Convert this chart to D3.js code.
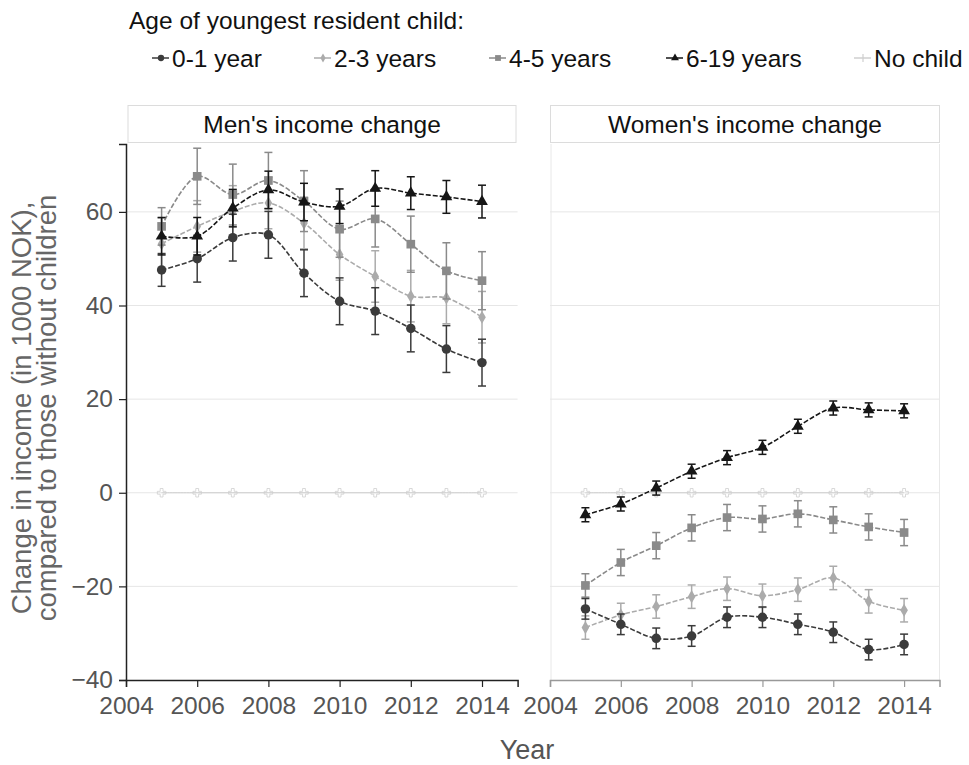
<!DOCTYPE html>
<html>
<head>
<meta charset="utf-8">
<script src="https://cdn.jsdelivr.net/npm/d3@7"></script>
<style>
  html, body { margin: 0; padding: 0; background: #fff; }
  svg { display: block; font-family: "Liberation Sans", Arial, sans-serif; }
</style>
</head>
<body>
<svg id="chart" width="969" height="765"></svg>
<script>
// ---- data ----
const years = [2005, 2006, 2007, 2008, 2009, 2010, 2011, 2012, 2013, 2014];
const groups = ["0-1 year", "2-3 years", "4-5 years", "6-19 years", "No child"];
const yTicks = [-40, -20, 0, 20, 40, 60];
const xTicks = [2004, 2006, 2008, 2010, 2012, 2014];

// Men: income change vs. no-child baseline (1000 NOK) and error half-widths
const men01 = [47.6, 50.0, 54.5, 55.1, 46.9, 40.9, 38.8, 35.1, 30.7, 27.8];
const men01Err = [3.5, 5, 5, 5, 5, 5, 5, 5, 5, 5];
const men23 = [53.2, 56.9, 60.1, 61.9, 57.6, 50.9, 46.2, 42.0, 41.6, 37.5];
const men23Err = [5.5, 5.5, 5.5, 5.5, 5.5, 5.5, 5.5, 5.5, 5.5, 5.5];
const men45 = [56.9, 67.6, 63.7, 66.7, 62.3, 56.3, 58.5, 53.1, 47.4, 45.3];
const men45Err = [4, 6, 6.5, 6, 6.5, 6, 6, 6, 6, 6.2];
const men619 = [54.8, 54.8, 60.8, 64.7, 62.1, 61.2, 65.0, 64.0, 63.2, 62.2];
const men619Err = [4, 4, 4, 4, 4, 3.7, 3.8, 3.5, 3.5, 3.5];
const menNone = [0, 0, 0, 0, 0, 0, 0, 0, 0, 0];

// Women
const women01 = [-24.8, -28.1, -31.1, -30.6, -26.6, -26.6, -28.1, -29.8, -33.5, -32.4];
const women01Err = [2.2, 2.2, 2.2, 2.2, 2.2, 2.2, 2.2, 2.2, 2.2, 2.2];
const women23 = [-28.8, -26.1, -24.3, -22.2, -20.5, -22.0, -20.7, -18.2, -23.2, -25.1];
const women23Err = [2.5, 2.5, 2.5, 2.5, 2.5, 2.5, 2.5, 2.5, 2.5, 2.5];
const women45 = [-19.8, -14.9, -11.3, -7.5, -5.3, -5.6, -4.5, -5.8, -7.3, -8.5];
const women45Err = [2.5, 2.8, 2.8, 2.8, 2.8, 2.8, 2.8, 2.8, 2.8, 2.8];
const women619 = [-4.7, -2.4, 1.0, 4.6, 7.5, 9.7, 14.2, 18.1, 17.7, 17.5];
const women619Err = [1.5, 1.5, 1.5, 1.5, 1.5, 1.5, 1.5, 1.5, 1.5, 1.5];
const womenNone = [0, 0, 0, 0, 0, 0, 0, 0, 0, 0];

// ---- styling per group ----
const colors = ["#3b3b3b", "#ababab", "#8a8a8a", "#161616", "#cfcfcf"];
const shapes = [d3.symbolCircle, d3.symbolDiamond, d3.symbolSquare, d3.symbolTriangle, d3.symbolCross];
const sizes = [70, 50, 75, 60, 30];
const FONT = "Liberation Sans, Arial, sans-serif";

const svg = d3.select("#chart");

// ---- legend ----
svg.append("text").attr("x", 129).attr("y", 29)
  .attr("font-size", 24.5).attr("fill", "#111")
  .text("Age of youngest resident child:");

const legendX = [161, 323, 498, 675, 863];
groups.forEach((g, i) => {
  const gx = legendX[i], gy = 58;
  const lg = svg.append("g");
  lg.append("line").attr("x1", gx - 9).attr("x2", gx + 8).attr("y1", gy).attr("y2", gy)
    .attr("stroke", colors[i]).attr("stroke-width", 1.5);
  if (i < 4) {
    lg.append("path").attr("transform", `translate(${gx},${gy})`)
      .attr("d", d3.symbol().type(shapes[i]).size(sizes[i] * 0.45)())
      .attr("fill", colors[i]);
  } else {
    lg.append("line").attr("x1", gx).attr("x2", gx).attr("y1", gy - 4).attr("y2", gy + 4)
      .attr("stroke", colors[i]).attr("stroke-width", 1.2);
  }
  lg.append("text").attr("x", gx + 11).attr("y", gy + 9)
    .attr("font-size", 24.5).attr("fill", "#111").text(g);
});

// ---- panels ----
const plotTop = 144, plotBottom = 680;
const y = d3.scaleLinear().domain([-40, 74.5]).range([plotBottom, plotTop]);

const panels = [
  { title: "Men's income change", x0: 126, x1: 517.6,
    series: [men01, men23, men45, men619, menNone],
    errs: [men01Err, men23Err, men45Err, men619Err, null], left: true },
  { title: "Women's income change", x0: 550, x1: 939.5,
    series: [women01, women23, women45, women619, womenNone],
    errs: [women01Err, women23Err, women45Err, women619Err, null], left: false }
];

panels.forEach(p => {
  const x = d3.scaleLinear().domain([2004, 2015]).range([p.x0, p.x1]);
  const g = svg.append("g");

  // header strip
  const hx0 = p.left ? 128 : p.x0 + 0.5;
  const hx1 = p.left ? 516 : p.x1;
  g.append("rect").attr("x", hx0).attr("y", 105.5)
    .attr("width", hx1 - hx0).attr("height", 37)
    .attr("fill", "#fff").attr("stroke", "#dcdcdc").attr("stroke-width", 1);
  g.append("text").attr("x", (hx0 + hx1) / 2).attr("y", 133)
    .attr("text-anchor", "middle").attr("font-size", 24.5).attr("fill", "#111").text(p.title);

  // gridlines
  g.selectAll(".grid").data(yTicks.filter(t => t > -40)).join("line")
    .attr("x1", p.x0).attr("x2", p.x1)
    .attr("y1", d => y(d)).attr("y2", d => y(d))
    .attr("stroke", "#e6e6e6").attr("stroke-width", 1);

  if (!p.left) {
    // light frame for the right panel
    g.append("line").attr("x1", p.x0 + 1).attr("x2", p.x0 + 1).attr("y1", plotTop).attr("y2", plotBottom)
      .attr("stroke", "#e8e8e8");
    g.append("line").attr("x1", p.x1).attr("x2", p.x1).attr("y1", plotTop).attr("y2", plotBottom)
      .attr("stroke", "#e8e8e8");
  }

  // x axis
  const xAxis = g.append("g").attr("transform", `translate(0,${plotBottom})`)
    .call(d3.axisBottom(x).tickValues(xTicks).tickFormat(d3.format("d")).tickSize(7).tickPadding(10));
  xAxis.select(".domain").attr("stroke", p.left ? "#222" : "#999").attr("stroke-width", 1.5);
  xAxis.selectAll(".tick line").attr("stroke", p.left ? "#222" : "#999").attr("stroke-width", 1.2);
  xAxis.selectAll(".tick text").attr("font-size", 24.5).attr("fill", "#555").attr("font-family", FONT);

  if (p.left) {
    const yAxis = g.append("g").attr("transform", `translate(${p.x0},0)`)
      .call(d3.axisLeft(y).tickValues(yTicks).tickSize(7).tickPadding(6));
    yAxis.select(".domain").attr("stroke", "#222").attr("stroke-width", 1.5);
    yAxis.selectAll(".tick line").attr("stroke", "#222").attr("stroke-width", 1.2);
    yAxis.selectAll(".tick text").attr("font-size", 24.5).attr("fill", "#555").attr("font-family", FONT);
  }

  const line = d3.line().x((d, i) => x(years[i])).y(d => y(d)).curve(d3.curveCatmullRom.alpha(0.5));

  // draw from the no-child baseline upward so dark series sit on top
  [4, 1, 2, 0, 3].forEach(si => {
    const vals = p.series[si];
    const err = p.errs[si];
    const c = colors[si];
    const sg = g.append("g");
    if (err) {
      vals.forEach((v, i) => {
        const cx = x(years[i]);
        sg.append("line").attr("x1", cx).attr("x2", cx)
          .attr("y1", y(v - err[i])).attr("y2", y(v + err[i]))
          .attr("stroke", c).attr("stroke-width", 1.5);
        [v - err[i], v + err[i]].forEach(e => {
          sg.append("line").attr("x1", cx - 4).attr("x2", cx + 4)
            .attr("y1", y(e)).attr("y2", y(e))
            .attr("stroke", c).attr("stroke-width", 1.5);
        });
      });
    }
    sg.append("path").datum(vals).attr("d", line)
      .attr("fill", "none").attr("stroke", c).attr("stroke-width", si === 4 ? 1 : 1.6)
      .attr("stroke-dasharray", si === 4 ? null : "5,2");
    vals.forEach((v, i) => {
      if (si === 4) {
        sg.append("path").attr("transform", `translate(${x(years[i])},${y(v)})`)
          .attr("d", d3.symbol().type(d3.symbolCross).size(40)())
          .attr("fill", "none").attr("stroke", c).attr("stroke-width", 0.8);
      } else {
        sg.append("path").attr("transform", `translate(${x(years[i])},${y(v)})`)
          .attr("d", d3.symbol().type(shapes[si]).size(sizes[si])())
          .attr("fill", c);
      }
    });
  });
});

// ---- axis titles ----
const yTitle = svg.append("text").attr("transform", "translate(31,408) rotate(-90)")
  .attr("text-anchor", "middle").attr("font-size", 27.5).attr("fill", "#666");
yTitle.append("tspan").attr("x", 0).attr("dy", 0).text("Change in income (in 1000 NOK),");
yTitle.append("tspan").attr("x", 0).attr("dy", 25).text("compared to those without children");

svg.append("text").attr("x", 527).attr("y", 759).attr("text-anchor", "middle")
  .attr("font-size", 27).attr("fill", "#555").text("Year");
</script>
</body>
</html>
